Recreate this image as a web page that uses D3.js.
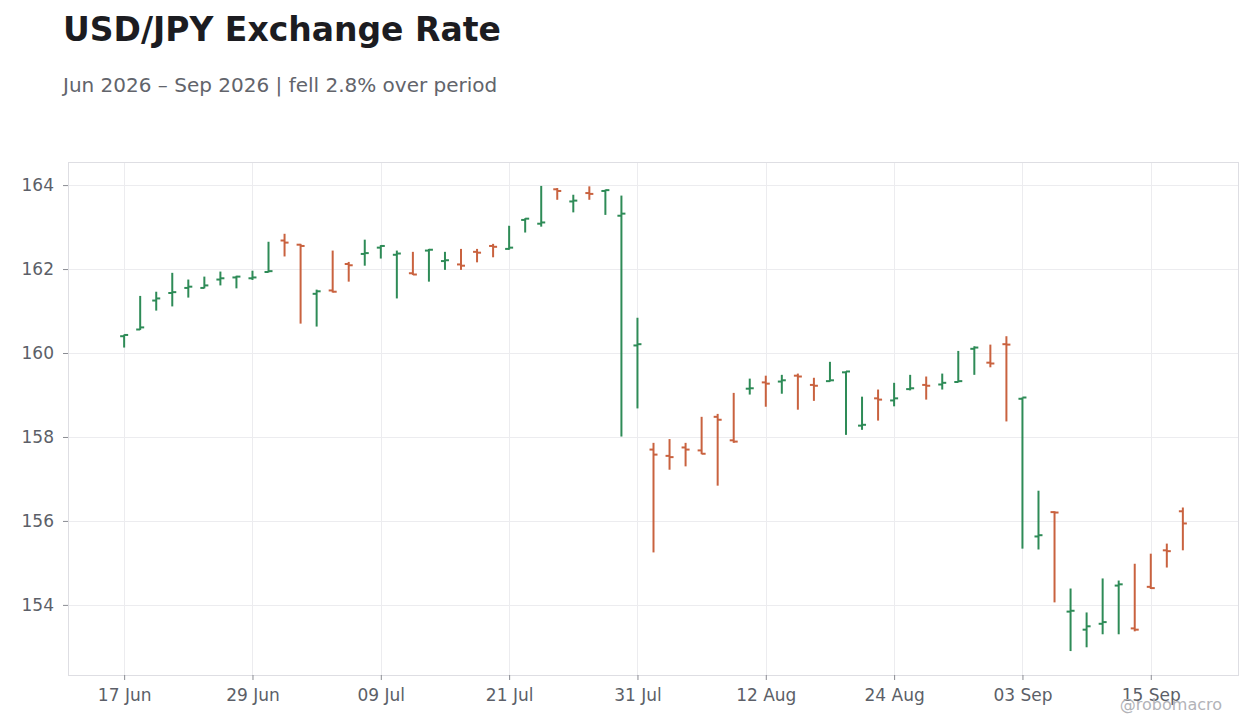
<!DOCTYPE html>
<html>
<head>
<meta charset="utf-8">
<script src="https://cdn.jsdelivr.net/npm/d3@7"></script>
<style>
  html, body { margin: 0; padding: 0; background: #ffffff; }
  svg { display: block; font-family: "DejaVu Sans", sans-serif; }
</style>
</head>
<body>
<svg id="chart" width="1260" height="728"></svg>
<script>
// ---- Data ----
const dates = [
  "2026-06-17","2026-06-18","2026-06-19","2026-06-22","2026-06-23","2026-06-24","2026-06-25","2026-06-26","2026-06-29","2026-06-30",
  "2026-07-01","2026-07-02","2026-07-03","2026-07-06","2026-07-07","2026-07-08","2026-07-09","2026-07-10","2026-07-13","2026-07-14",
  "2026-07-15","2026-07-16","2026-07-17","2026-07-20","2026-07-21","2026-07-22","2026-07-23","2026-07-24","2026-07-27","2026-07-28",
  "2026-07-29","2026-07-30","2026-07-31","2026-08-03","2026-08-04","2026-08-05","2026-08-06","2026-08-07","2026-08-10","2026-08-11",
  "2026-08-12","2026-08-13","2026-08-14","2026-08-17","2026-08-18","2026-08-19","2026-08-20","2026-08-21","2026-08-24","2026-08-25",
  "2026-08-26","2026-08-27","2026-08-28","2026-08-31","2026-09-01","2026-09-02","2026-09-03","2026-09-04","2026-09-07","2026-09-08",
  "2026-09-09","2026-09-10","2026-09-11","2026-09-14","2026-09-15","2026-09-16","2026-09-17"
];
const opens = [
  160.40,160.56,161.25,161.43,161.55,161.55,161.75,161.80,161.78,161.93,
  162.68,162.58,161.41,161.49,162.12,162.36,162.51,162.34,161.90,162.44,
  162.19,162.11,162.41,162.55,162.48,163.17,163.08,163.90,163.61,163.81,
  163.86,163.27,160.18,157.70,157.55,157.75,157.68,158.48,157.92,159.15,
  159.30,159.32,159.46,159.24,159.33,159.54,158.27,158.92,158.87,159.14,
  159.24,159.25,159.31,160.10,159.77,160.21,158.91,155.63,156.21,153.84,
  153.41,153.55,154.46,153.44,154.43,155.30,156.23
];
const highs = [
  160.44,161.36,161.46,161.91,161.75,161.82,161.94,161.84,161.96,162.65,
  162.84,162.60,161.51,162.44,162.17,162.70,162.57,162.44,162.41,162.48,
  162.41,162.48,162.48,162.60,163.03,163.21,163.98,163.93,163.77,163.97,
  163.89,163.75,160.84,157.86,157.95,157.86,158.48,158.55,159.05,159.39,
  159.46,159.48,159.51,159.41,159.79,159.56,158.96,159.13,159.29,159.48,
  159.44,159.51,160.05,160.16,160.20,160.40,158.94,156.72,156.23,154.39,
  153.82,154.63,154.58,154.98,155.22,155.46,156.32
];
const lows = [
  160.13,160.55,161.01,161.11,161.32,161.54,161.61,161.54,161.74,161.92,
  162.30,160.70,160.63,161.44,161.70,162.08,162.25,161.30,161.86,161.70,
  161.98,161.98,162.16,162.28,162.46,162.87,163.01,163.65,163.35,163.65,
  163.29,158.01,158.68,155.25,157.22,157.30,157.59,156.84,157.86,159.01,
  158.72,159.03,158.65,158.86,159.32,158.05,158.17,158.39,158.73,159.11,
  158.89,159.13,159.30,159.48,159.66,158.37,155.34,155.32,154.06,152.90,
  152.99,153.30,153.30,153.37,154.38,154.89,155.30
];
const closes = [
  160.43,160.61,161.30,161.45,161.58,161.61,161.78,161.82,161.80,161.95,
  162.63,162.55,161.47,161.46,162.09,162.38,162.55,162.37,161.87,162.46,
  162.21,162.08,162.39,162.53,162.51,163.20,163.11,163.86,163.63,163.79,
  163.88,163.32,160.21,157.58,157.52,157.70,157.60,158.41,157.89,159.16,
  159.27,159.35,159.44,159.22,159.35,159.56,158.29,158.89,158.92,159.16,
  159.22,159.29,159.33,160.13,159.75,160.20,158.94,155.66,156.20,153.86,
  153.49,153.59,154.49,153.41,154.40,155.28,155.94
];
const yTicks = [154, 156, 158, 160, 162, 164];
const xTickEvery = 8;

const titleText = "USD/JPY Exchange Rate";
const subtitleText = "Jun 2026 \u2013 Sep 2026 | fell 2.8% over period";
const watermark = "@robomacro";

// ---- Layout ----
const plot = { left: 68, right: 1239, top: 162, bottom: 675 };
const upColor = "#2e8b57", downColor = "#c9623f";

const parse = d3.timeParse("%Y-%m-%d");
const fmt = d3.timeFormat("%d %b");
const bars = dates.map((d, i) => ({
  date: d, o: opens[i], h: highs[i], l: lows[i], c: closes[i]
}));

const svg = d3.select("#chart");

const x = d3.scalePoint()
  .domain(dates)
  .range([plot.left, plot.right])
  .padding(3.5);

const yMin = d3.min(lows), yMax = d3.max(highs);
const pad = 0.57;
const y = d3.scaleLinear()
  .domain([yMin - pad, yMax + pad])
  .range([plot.bottom, plot.top]);

// Title & subtitle
svg.append("text")
  .attr("x", 63).attr("y", 41)
  .attr("font-size", 33).attr("font-weight", "bold")
  .attr("fill", "#1c1c21")
  .text(titleText);
svg.append("text")
  .attr("x", 63).attr("y", 92)
  .attr("font-size", 20)
  .attr("fill", "#62646b")
  .text(subtitleText);

// Plot background
svg.append("rect")
  .attr("x", plot.left).attr("y", plot.top)
  .attr("width", plot.right - plot.left).attr("height", plot.bottom - plot.top)
  .attr("fill", "#ffffff");

const xTickVals = dates.filter((d, i) => i % xTickEvery === 0);

// Gridlines
const grid = svg.append("g");
grid.selectAll("line.gy").data(yTicks).join("line")
  .attr("x1", plot.left).attr("x2", plot.right)
  .attr("y1", d => Math.round(y(d)) + 0.5).attr("y2", d => Math.round(y(d)) + 0.5)
  .attr("stroke", "#ececef").attr("stroke-width", 1);
grid.selectAll("line.gx").data(xTickVals).join("line")
  .attr("x1", d => Math.round(x(d)) + 0.5).attr("x2", d => Math.round(x(d)) + 0.5)
  .attr("y1", plot.top).attr("y2", plot.bottom)
  .attr("stroke", "#ececef").attr("stroke-width", 1);

// Frame
svg.append("rect")
  .attr("x", plot.left + 0.5).attr("y", plot.top + 0.5)
  .attr("width", plot.right - plot.left - 1).attr("height", plot.bottom - plot.top)
  .attr("fill", "none").attr("stroke", "#dedee3").attr("stroke-width", 1);

// Axes
const yAxis = d3.axisLeft(y).tickValues(yTicks).tickSize(5).tickPadding(9).tickFormat(d3.format("d"));
const gy = svg.append("g").attr("transform", `translate(${plot.left},0)`).call(yAxis);
const xAxis = d3.axisBottom(x).tickValues(xTickVals).tickSize(5).tickPadding(9)
  .tickFormat(d => fmt(parse(d)));
const gx = svg.append("g").attr("transform", `translate(0,${plot.bottom})`).call(xAxis);
[gx, gy].forEach(g => {
  g.select(".domain").remove();
  g.selectAll(".tick line").attr("stroke", "#8a8c93");
  g.selectAll(".tick text")
    .attr("fill", "#5c5f68")
    .attr("font-size", 17)
    .attr("font-family", "DejaVu Sans, sans-serif");
});

// OHLC bars
const gb = svg.append("g");
const colorOf = d => d.c >= d.o ? upColor : downColor;
const bar = gb.selectAll("g.bar").data(bars).join("g").attr("class", "bar");
bar.append("line")
  .attr("x1", d => x(d.date)).attr("x2", d => x(d.date))
  .attr("y1", d => y(d.h)).attr("y2", d => y(d.l))
  .attr("stroke", colorOf).attr("stroke-width", 2);
bar.append("line")
  .attr("x1", d => x(d.date) - 4).attr("x2", d => x(d.date))
  .attr("y1", d => y(d.o)).attr("y2", d => y(d.o))
  .attr("stroke", colorOf).attr("stroke-width", 2);
bar.append("line")
  .attr("x1", d => x(d.date)).attr("x2", d => x(d.date) + 4)
  .attr("y1", d => y(d.c)).attr("y2", d => y(d.c))
  .attr("stroke", colorOf).attr("stroke-width", 2);

// Watermark
svg.append("text")
  .attr("x", 1222).attr("y", 710)
  .attr("text-anchor", "end")
  .attr("font-size", 16)
  .attr("fill", "#b2b3b8")
  .text(watermark);
</script>
</body>
</html>
